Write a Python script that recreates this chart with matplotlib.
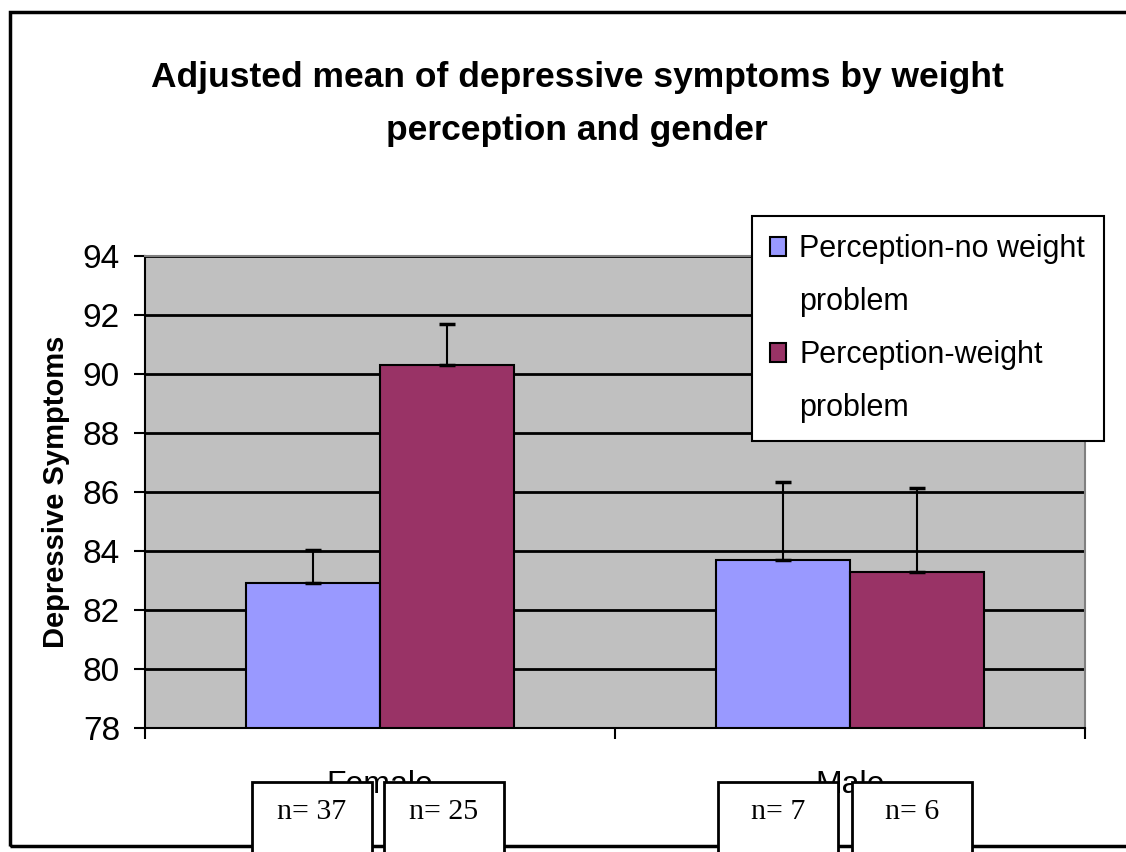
import numpy as np
import matplotlib
matplotlib.use("Agg")
import matplotlib.pyplot as plt
from matplotlib.patches import Rectangle, Patch

# data
genders = ["Female", "Male"]
series = ["Perception-no weight\nproblem", "Perception-weight\nproblem"]
no_problem = [82.9, 83.7]
weight_problem = [90.3, 83.3]
err_no_problem = [1.15, 2.65]
err_weight_problem = [1.4, 2.85]
n_labels = ["n= 37", "n= 25", "n= 7", "n= 6"]
yticks = [78, 80, 82, 84, 86, 88, 90, 92, 94]

colors = ["#9999FF", "#993366"]
plt.rcParams["font.family"] = ["Liberation Sans", "DejaVu Sans"]

W, H = 1126, 852
fig = plt.figure(figsize=(W / 100, H / 100), dpi=100)
ax = fig.add_axes([145 / W, 1 - 728 / H, 940 / W, 472 / H])

x = np.arange(len(genders))
w = 0.285
ax.bar(x - w / 2, np.array(no_problem) - 78, w, bottom=78, color=colors[0],
       edgecolor="black", linewidth=1.5, zorder=3)
ax.bar(x + w / 2, np.array(weight_problem) - 78, w, bottom=78, color=colors[1],
       edgecolor="black", linewidth=1.5, zorder=3)
ax.errorbar(x - w / 2, no_problem, yerr=[np.zeros(2), err_no_problem], fmt="none",
            ecolor="black", elinewidth=1.5, capsize=5.5, capthick=2.5, zorder=4)
ax.errorbar(x + w / 2, weight_problem, yerr=[np.zeros(2), err_weight_problem], fmt="none",
            ecolor="black", elinewidth=1.5, capsize=5.5, capthick=2.5, zorder=4)

ax.set_facecolor("#C0C0C0")
ax.set_xlim(-0.5, 1.5)
ax.set_ylim(78, 94)
ax.set_yticks(yticks)
ax.tick_params(axis="y", labelsize=24, length=8, width=1.5, direction="out", pad=10)
ax.grid(axis="y", color="black", linewidth=2, zorder=1)
ax.set_axisbelow(True)
ax.set_xticks([-0.5, 0.5, 1.5])
ax.set_xticklabels([])
ax.set_xticks(x, minor=True)
ax.set_xticklabels(genders, minor=True, fontsize=23)
ax.tick_params(axis="x", which="major", length=8, width=1.5, direction="out")
ax.tick_params(axis="x", which="minor", length=0, pad=30)
for s in ["left", "bottom"]:
    ax.spines[s].set_color("black")
    ax.spines[s].set_linewidth(1.5)
for s in ["top", "right"]:
    ax.spines[s].set_color("#808080")
    ax.spines[s].set_linewidth(1.5)

ax.set_ylabel("Depressive Symptoms", fontsize=21, fontweight="bold", labelpad=9)

# legend: each label split over two rows so the square sits by the first line
handles = []
labels = []
for c, s in zip(colors, series):
    first, second = s.split("\n")
    handles += [Patch(facecolor=c, edgecolor="black", linewidth=1.5),
                Patch(facecolor="none", edgecolor="none")]
    labels += [first, second]
leg = ax.legend(handles, labels, loc="upper left", bbox_to_anchor=(752 / W, 1 - 216 / H),
                bbox_transform=fig.transFigure, borderaxespad=0, fontsize=22,
                frameon=True, fancybox=False, edgecolor="black", framealpha=1,
                handlelength=0.5, handleheight=0.55, handletextpad=0.45,
                labelspacing=0.75, borderpad=0.6)
leg.get_frame().set_linewidth(1.5)

fig.text(577 / W, 1 - 104 / H,
         "Adjusted mean of depressive symptoms by weight\nperception and gender",
         ha="center", va="center", fontsize=25.5, fontweight="bold",
         linespacing=1.8)

# frame around chart
fig.patches.append(Rectangle((10 / W, 1 - 846 / H), 1.2, 834 / H,
                             transform=fig.transFigure, fill=False,
                             edgecolor="black", linewidth=2.5))

# n= boxes
box_left = [252, 384, 718, 852]
for lbl, bx in zip(n_labels, box_left):
    fig.patches.append(Rectangle((bx / W, -0.05), 120 / W, 0.05 + (852 - 782) / H,
                                 transform=fig.transFigure, facecolor="white",
                                 edgecolor="black", linewidth=2, zorder=5))
    fig.text((bx + 60) / W, 1 - 812 / H, lbl, ha="center", va="center",
             fontsize=21.5, family=["Liberation Serif", "DejaVu Serif"], zorder=6)

fig.savefig("out.png", dpi=100)
